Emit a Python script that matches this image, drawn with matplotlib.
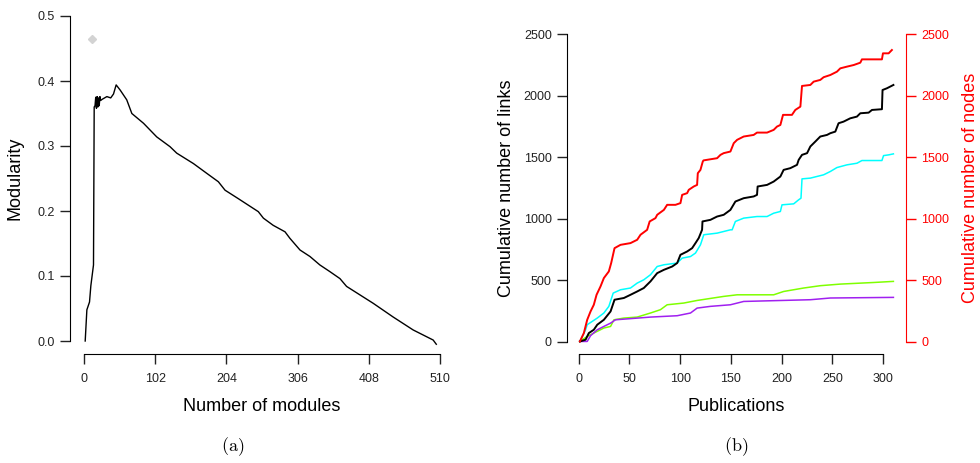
import matplotlib
matplotlib.use("Agg")
import matplotlib.pyplot as plt
import numpy as np

plt.rcParams['font.family'] = ['Liberation Sans', 'DejaVu Sans']
plt.rcParams['mathtext.fontset'] = 'cm'

# ---- Panel (a): modularity vs number of modules ----
mod_x = [1.4, 3.8, 7.6, 9.5, 13.3, 14.3, 15.5, 16.5, 17.5, 18.5, 19.5, 20.5, 21.5, 22.5, 23.5,
         26, 32.5, 38, 42, 45.8, 51.6, 61, 68.3, 85, 104, 123, 132.7, 156.6, 175.7, 192.4,
         202, 221, 249.7, 257, 271, 288, 295, 309.5, 323.8, 338, 352, 366.8, 376.3, 395.4,
         414.5, 443, 471.8, 500.5, 505]
mod_y = [0.0, 0.048, 0.060, 0.085, 0.117, 0.36, 0.362, 0.375, 0.358, 0.376, 0.360, 0.374, 0.362,
         0.376, 0.370, 0.372, 0.376, 0.374, 0.380, 0.394, 0.386, 0.371, 0.350, 0.335, 0.314,
         0.299, 0.289, 0.273, 0.258, 0.245, 0.232, 0.219, 0.199, 0.189, 0.178, 0.168, 0.158,
         0.140, 0.130, 0.117, 0.107, 0.096, 0.084, 0.071, 0.058, 0.037, 0.017, 0.0015, -0.005]
best_x = [11]
best_y = [0.465]
mod_xticks = [0, 102, 204, 306, 408, 510]
mod_yticks = [0.0, 0.1, 0.2, 0.3, 0.4, 0.5]

# ---- Panel (b): cumulative counts vs publications ----
red_x = [1.3, 5.2, 8.5, 11.8, 15, 17.7, 21.6, 24.9, 29.8, 32.1, 35.4, 41.3, 51.1, 57.7, 61, 67.5,
         70, 75.7, 77.4, 84, 87.2, 95.4, 100.3, 102, 106.9, 108.5, 113.4, 116.7, 117.4, 120,
         122.3, 123, 136.4, 139.7, 142.9, 149.5, 152.8, 156.1, 162.6, 172.4, 175.7, 185.6,
         192.1, 195.4, 198.7, 201.3, 210.1, 213.4, 218.4, 220, 228.2, 231.5, 238, 241.3,
         247.9, 254.4, 257.7, 264.3, 270.9, 277.4, 279, 298.7, 299.7, 305.3, 308.5]
red_y = [2, 70, 178, 246, 300, 381, 449, 517, 571, 639, 760, 787, 801, 828, 869, 909,
         977, 1004, 1031, 1071, 1112, 1112, 1126, 1193, 1207, 1234, 1261, 1274, 1369, 1396,
         1464, 1473, 1491, 1518, 1532, 1545, 1613, 1640, 1667, 1680, 1699, 1699,
         1721, 1748, 1761, 1843, 1843, 1883, 1910, 2078, 2086, 2113, 2127, 2149,
         2167, 2194, 2221, 2235, 2248, 2267, 2294, 2294, 2343, 2343, 2370]

black_x = [1.3, 6.9, 10.1, 15, 18.4, 24.9, 31.5, 35.4, 44.6, 51.1, 57.7, 64.2, 70.8, 77.4, 84,
           92.2, 97.1, 100.3, 106.9, 111.8, 115.1, 118.3, 121.6, 122, 129.8, 136.4, 142.9,
           149.5, 154.4, 162.6, 172.4, 175.7, 176.3, 185.6, 192.1, 198.7, 201.9, 208.5,
           215.1, 216.7, 220, 225, 228.2, 233.1, 238, 244.6, 247.9, 252.8, 256, 260.9,
           267.5, 274.1, 277.4, 285.6, 288.9, 298.7, 299.3, 303.6, 310]
black_y = [2, 16, 70, 97, 138, 178, 246, 341, 355, 381, 408, 436, 490, 557, 584,
           611, 639, 706, 733, 760, 801, 842, 909, 977, 990, 1017, 1031,
           1071, 1139, 1166, 1180, 1193, 1261, 1274, 1301, 1342, 1396, 1410,
           1437, 1477, 1518, 1532, 1586, 1626, 1667, 1680, 1694, 1707, 1775, 1788,
           1815, 1829, 1856, 1861, 1883, 1889, 2045, 2059, 2086]

cyan_x = [1.3, 6.9, 8.5, 18.4, 24.9, 29.8, 34.1, 41.3, 51.1, 57.7, 64.2, 70.8, 77.4, 84, 97.1,
          102, 110.2, 115.1, 120, 123.3, 136.4, 149.5, 151.2, 154.4, 162.6, 175.7, 185.6,
          192.1, 198.7, 200.3, 211.8, 216.7, 219, 220, 228.2, 241.3, 247.9, 254.4, 264.3,
          274.1, 279, 298.7, 300.3, 305.3, 310]
cyan_y = [2, 97, 138, 192, 233, 287, 395, 422, 436, 476, 503, 544, 611, 625, 639,
          679, 692, 720, 787, 869, 882, 909, 909, 977, 1004, 1017, 1017,
          1044, 1058, 1112, 1120, 1153, 1166, 1323, 1329, 1356, 1383, 1415, 1437,
          1450, 1472, 1472, 1512, 1518, 1526]

green_x = [1.3, 8.5, 15, 24.9, 31.5, 34.8, 44.6, 57.7, 70.8, 80.6, 87.2, 103.6, 116.7, 142.9,
           156.1, 192.1, 201.9, 221.6, 238, 257.7, 290.5, 310]
green_y = [2, 43, 70, 111, 124, 178, 192, 200, 233, 260, 300, 314, 335, 368,
           381, 381, 408, 436, 455, 468, 481, 490]

purple_x = [1.3, 8.5, 11.8, 18.4, 24.9, 31.5, 36.4, 70.8, 97.1, 110.2, 116.7, 129.8, 149.5,
            162.6, 228.2, 247.9, 310]
purple_y = [2, 2, 49, 97, 124, 151, 178, 200, 211, 233, 273, 287, 300,
            327, 341, 355, 360]
pub_xticks = [0, 50, 100, 150, 200, 250, 300]
cum_yticks = [0, 500, 1000, 1500, 2000, 2500]

W, H = 980, 463
fig = plt.figure(figsize=(W / 100, H / 100), dpi=100)

tick_fs = 9
lab_fs = 13


def style_axes(ax):
    for s in ['top', 'right']:
        ax.spines[s].set_visible(False)
    ax.tick_params(axis='both', direction='out', length=7, width=1, labelsize=tick_fs,
                   colors='#222222')
    ax.tick_params(axis='y', pad=4)
    ax.tick_params(axis='x', pad=7)


# Panel (a)
ax1 = fig.add_axes([70 / W, 1 - 354 / H, 384 / W, 351 / H])
ax1.plot(mod_x, mod_y, color='black', lw=1.0)
ax1.plot(best_x, best_y, marker='D', color='#d3d3d3', ms=4.5, ls='none')
ax1.set_xlim(-20.4, 530.4)
ax1.set_ylim(-0.02, 0.52)
style_axes(ax1)
ax1.set_xticks(mod_xticks)
ax1.set_yticks(mod_yticks)
ax1.set_yticklabels([f"{v:.1f}" for v in mod_yticks])
ax1.spines['bottom'].set_bounds(0, 510)
ax1.spines['left'].set_bounds(0, 0.5)
ax1.set_xlabel('Number of modules', fontsize=lab_fs, labelpad=9)
ax1.set_ylabel('Modularity', fontsize=lab_fs, labelpad=10)

# Panel (b)
ax2 = fig.add_axes([567 / W, 1 - 354 / H, 339 / W, 332.3 / H])
ax2.plot(cyan_x, cyan_y, color='#00ffff', lw=1.1)
ax2.plot(green_x, green_y, color='#7fff00', lw=1.1)
ax2.plot(purple_x, purple_y, color='#a020f0', lw=1.1)
ax2.plot(black_x, black_y, color='black', lw=1.4)
ax2.set_xlim(-11.4, 322.4)
ax2.set_ylim(-100, 2600)
style_axes(ax2)
ax2.set_xticks(pub_xticks)
ax2.set_yticks(cum_yticks)
ax2.spines['bottom'].set_bounds(0, 300)
ax2.spines['left'].set_bounds(0, 2500)
ax2.set_xlabel('Publications', fontsize=lab_fs, labelpad=9)
ax2.set_ylabel('Cumulative number of links', fontsize=lab_fs, labelpad=6)

ax3 = ax2.twinx()
ax3.plot(red_x, red_y, color='red', lw=1.4)
ax3.set_ylim(-100, 2600)
for s in ['top', 'left', 'bottom']:
    ax3.spines[s].set_visible(False)
ax3.spines['right'].set_color('red')
ax3.spines['right'].set_bounds(0, 2500)
ax3.set_yticks(cum_yticks)
ax3.tick_params(axis='y', direction='out', length=7, width=1, labelsize=tick_fs,
                colors='red', pad=4)
ax3.set_ylabel('Cumulative number of nodes', fontsize=lab_fs, color='red', labelpad=9)

fig.text(233 / W, 1 - 447 / H, r'$\mathrm{(a)}$', ha='center', va='center', fontsize=13)
fig.text(736 / W, 1 - 447 / H, r'$\mathrm{(b)}$', ha='center', va='center', fontsize=13)

fig.savefig('out.png', dpi=100)
